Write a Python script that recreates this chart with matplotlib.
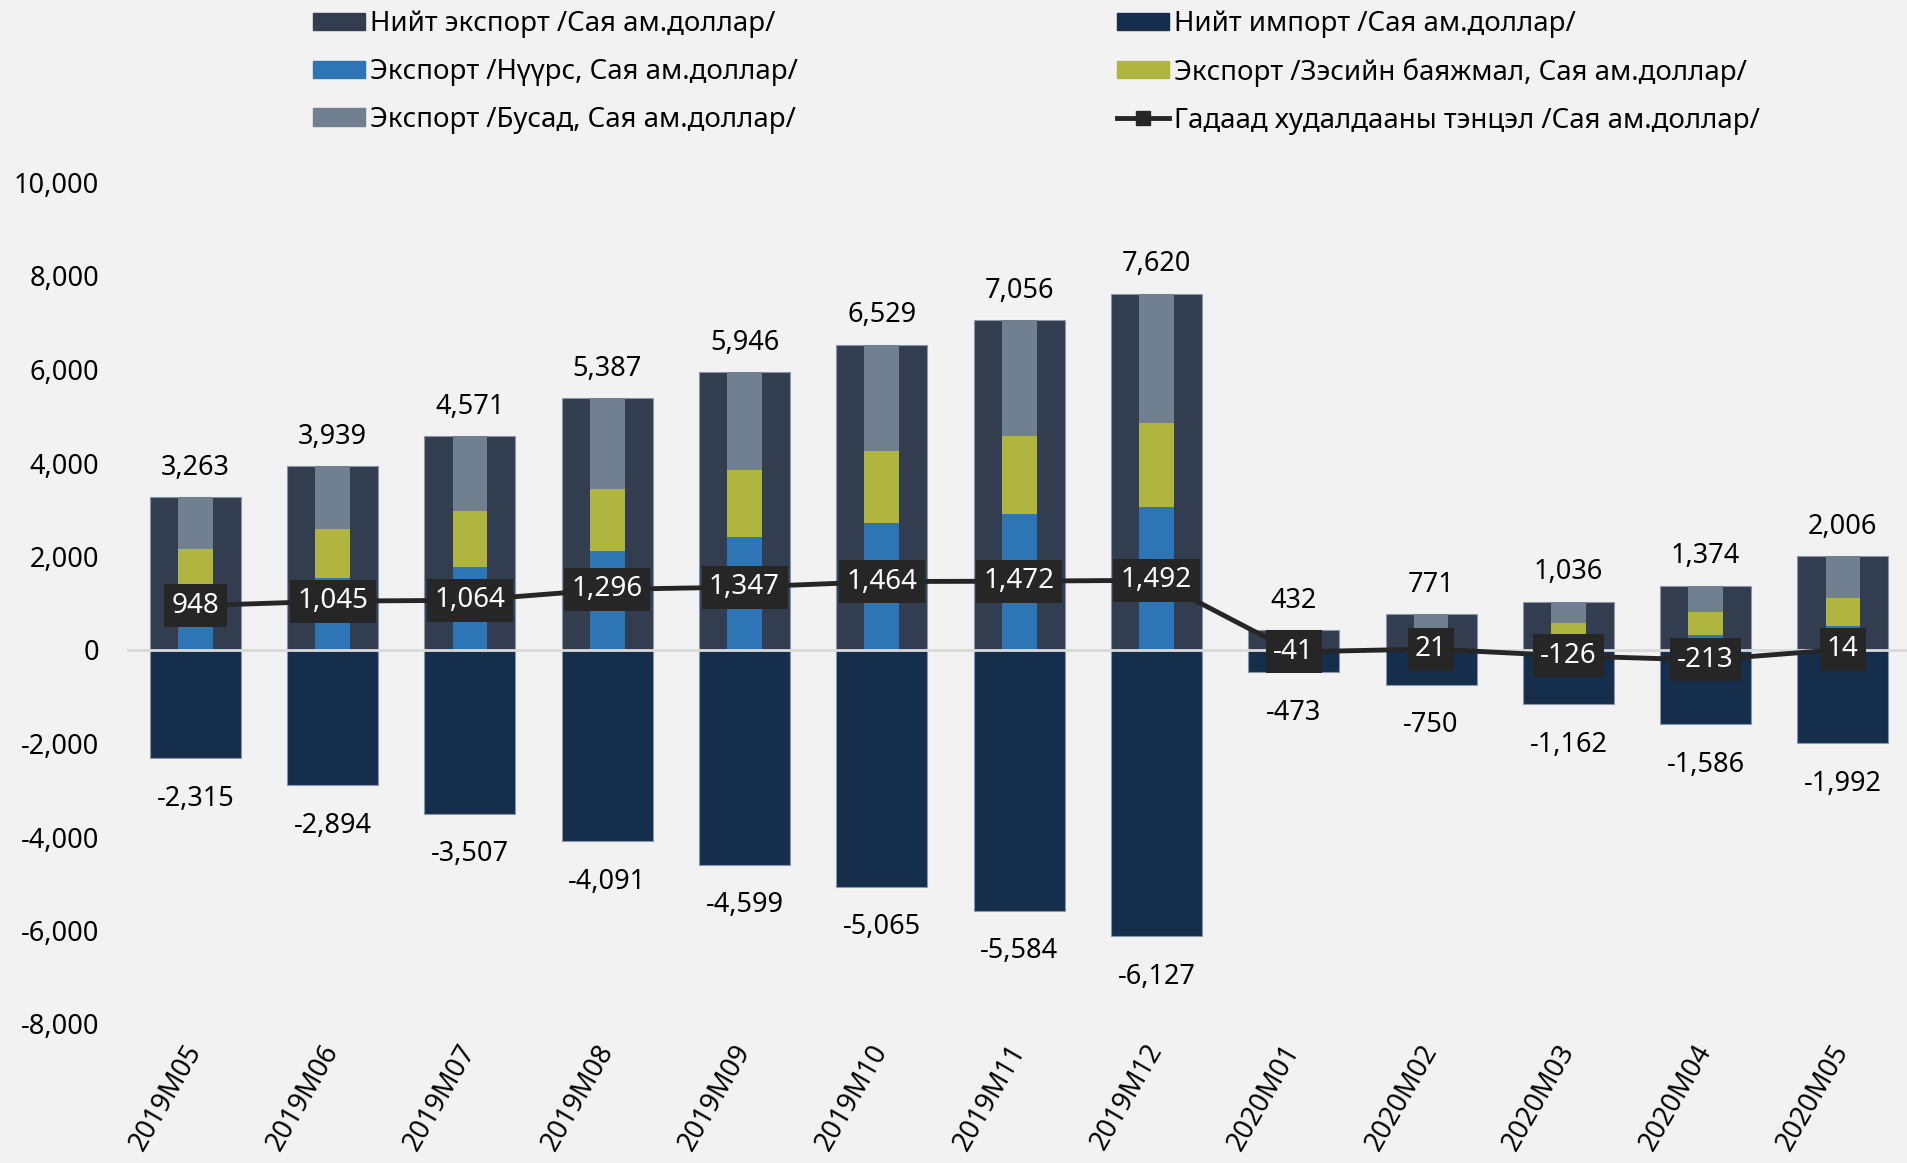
import numpy as np
import matplotlib
matplotlib.use("Agg")
import matplotlib.pyplot as plt
from matplotlib.patches import Patch
from matplotlib.lines import Line2D

plt.rcParams['font.family'] = ['Noto Sans', 'DejaVu Sans']

# %% Data (Сая ам.доллар)
months = ["2019M05", "2019M06", "2019M07", "2019M08", "2019M09", "2019M10", "2019M11",
          "2019M12", "2020M01", "2020M02", "2020M03", "2020M04", "2020M05"]
export_total = [3263, 3939, 4571, 5387, 5946, 6529, 7056, 7620, 432, 771, 1036, 1374, 2006]
import_total = [-2315, -2894, -3507, -4091, -4599, -5065, -5584, -6127, -473, -750, -1162, -1586, -1992]
export_coal = [1250, 1545, 1772, 2114, 2419, 2724, 2917, 3052, 200, 280, 300, 320, 514]
export_copper = [905, 1038, 1196, 1323, 1424, 1541, 1669, 1797, 100, 150, 284, 493, 605]
export_other = [1108, 1356, 1603, 1950, 2103, 2264, 2470, 2771, 132, 341, 452, 561, 887]
balance = [948, 1045, 1064, 1296, 1347, 1464, 1472, 1492, -41, 21, -126, -213, 14]

labels = ["Нийт экспорт /Сая ам.доллар/", "Нийт импорт /Сая ам.доллар/",
          "Экспорт /Нүүрс, Сая ам.доллар/", "Экспорт /Зэсийн баяжмал, Сая ам.доллар/",
          "Экспорт /Бусад, Сая ам.доллар/", "Гадаад худалдааны тэнцэл /Сая ам.доллар/"]

# colours
c_exp = "#323d4f"
c_imp = "#152e4c"
c_coal = "#2e75b6"
c_copper = "#afb53f"
c_other = "#718091"
c_line = "#262626"
bg = "#f2f2f2"

# %% Figure
W, H = 1908, 1163
fig = plt.figure(figsize=(W / 100, H / 100), dpi=100, facecolor=bg)
left_px, top_px, bottom_px = 126.7, 182.5, 1024.0
ax = fig.add_axes([left_px / W, 1 - bottom_px / H, (W - left_px) / W, (bottom_px - top_px) / H])
ax.set_facecolor(bg)

x = np.arange(len(months))
w_out = 0.663
w_in = 0.253

ax.bar(x, export_total, w_out, color=c_exp, edgecolor="#8a97ab", linewidth=0.8, zorder=2)
ax.bar(x, import_total, w_out, color=c_imp, edgecolor="#8a97ab", linewidth=0.8, zorder=2)

coal = np.array(export_coal)
copper = np.array(export_copper)
other = np.array(export_other)
ax.bar(x, coal, w_in, color=c_coal, zorder=2.2)
ax.bar(x, copper, w_in, bottom=coal, color=c_copper, zorder=2.2)
ax.bar(x, other, w_in, bottom=coal + copper, color=c_other, zorder=2.2)

ax.axhline(0, color="#d9d9d9", lw=2, zorder=3)

ax.plot(x, balance, color=c_line, lw=3.5, marker="s", ms=10, zorder=4)

fs = 19.5
for i in range(len(months)):
    ax.annotate(f"{export_total[i]:,}", (x[i], export_total[i]), xytext=(0, 11),
                textcoords="offset points", ha="center", va="bottom", fontsize=fs, color="black")
    ax.annotate(f"{import_total[i]:,}", (x[i], import_total[i]), xytext=(0, -19),
                textcoords="offset points", ha="center", va="top", fontsize=fs, color="black")
    ax.text(x[i], balance[i], f"{balance[i]:,}", ha="center", va="center", fontsize=20,
            color="white", zorder=5,
            bbox=dict(boxstyle="square,pad=0.27", fc=c_line, ec="none"))

ax.set_xlim(-0.5, 12.474)
ax.set_ylim(-8000, 10000)
yt = np.arange(-8000, 10001, 2000)
ax.set_yticks(yt)
ax.set_yticklabels([f"{v:,}" for v in yt], fontsize=fs)
ax.set_xticks(x)
ax.set_xticklabels(months, fontsize=fs, rotation=60, ha="right", va="center",
                   rotation_mode="anchor")
ax.tick_params(axis="y", length=0, pad=20)
ax.tick_params(axis="x", length=0, pad=16)
for s in ax.spines.values():
    s.set_visible(False)

# %% Legend (two columns)
lfs = 19.9
h1 = [Patch(color=c_exp), Patch(color=c_coal), Patch(color=c_other)]
h2 = [Patch(color=c_imp), Patch(color=c_copper),
      Line2D([], [], color=c_line, lw=3.5, marker="s", ms=10)]
common = dict(loc="upper left", frameon=False, fontsize=lfs, borderpad=0, borderaxespad=0,
              handlelength=1.88, handleheight=0.58, handletextpad=0.18, labelspacing=0.72)
leg1 = fig.legend(h1, [labels[0], labels[2], labels[4]],
                  bbox_to_anchor=(313 / W, 1 - 10 / H), **common)
leg2 = fig.legend(h2, [labels[1], labels[3], labels[5]],
                  bbox_to_anchor=(1117 / W, 1 - 10 / H), **common)

fig.savefig("out.png", dpi=100, facecolor=bg)
